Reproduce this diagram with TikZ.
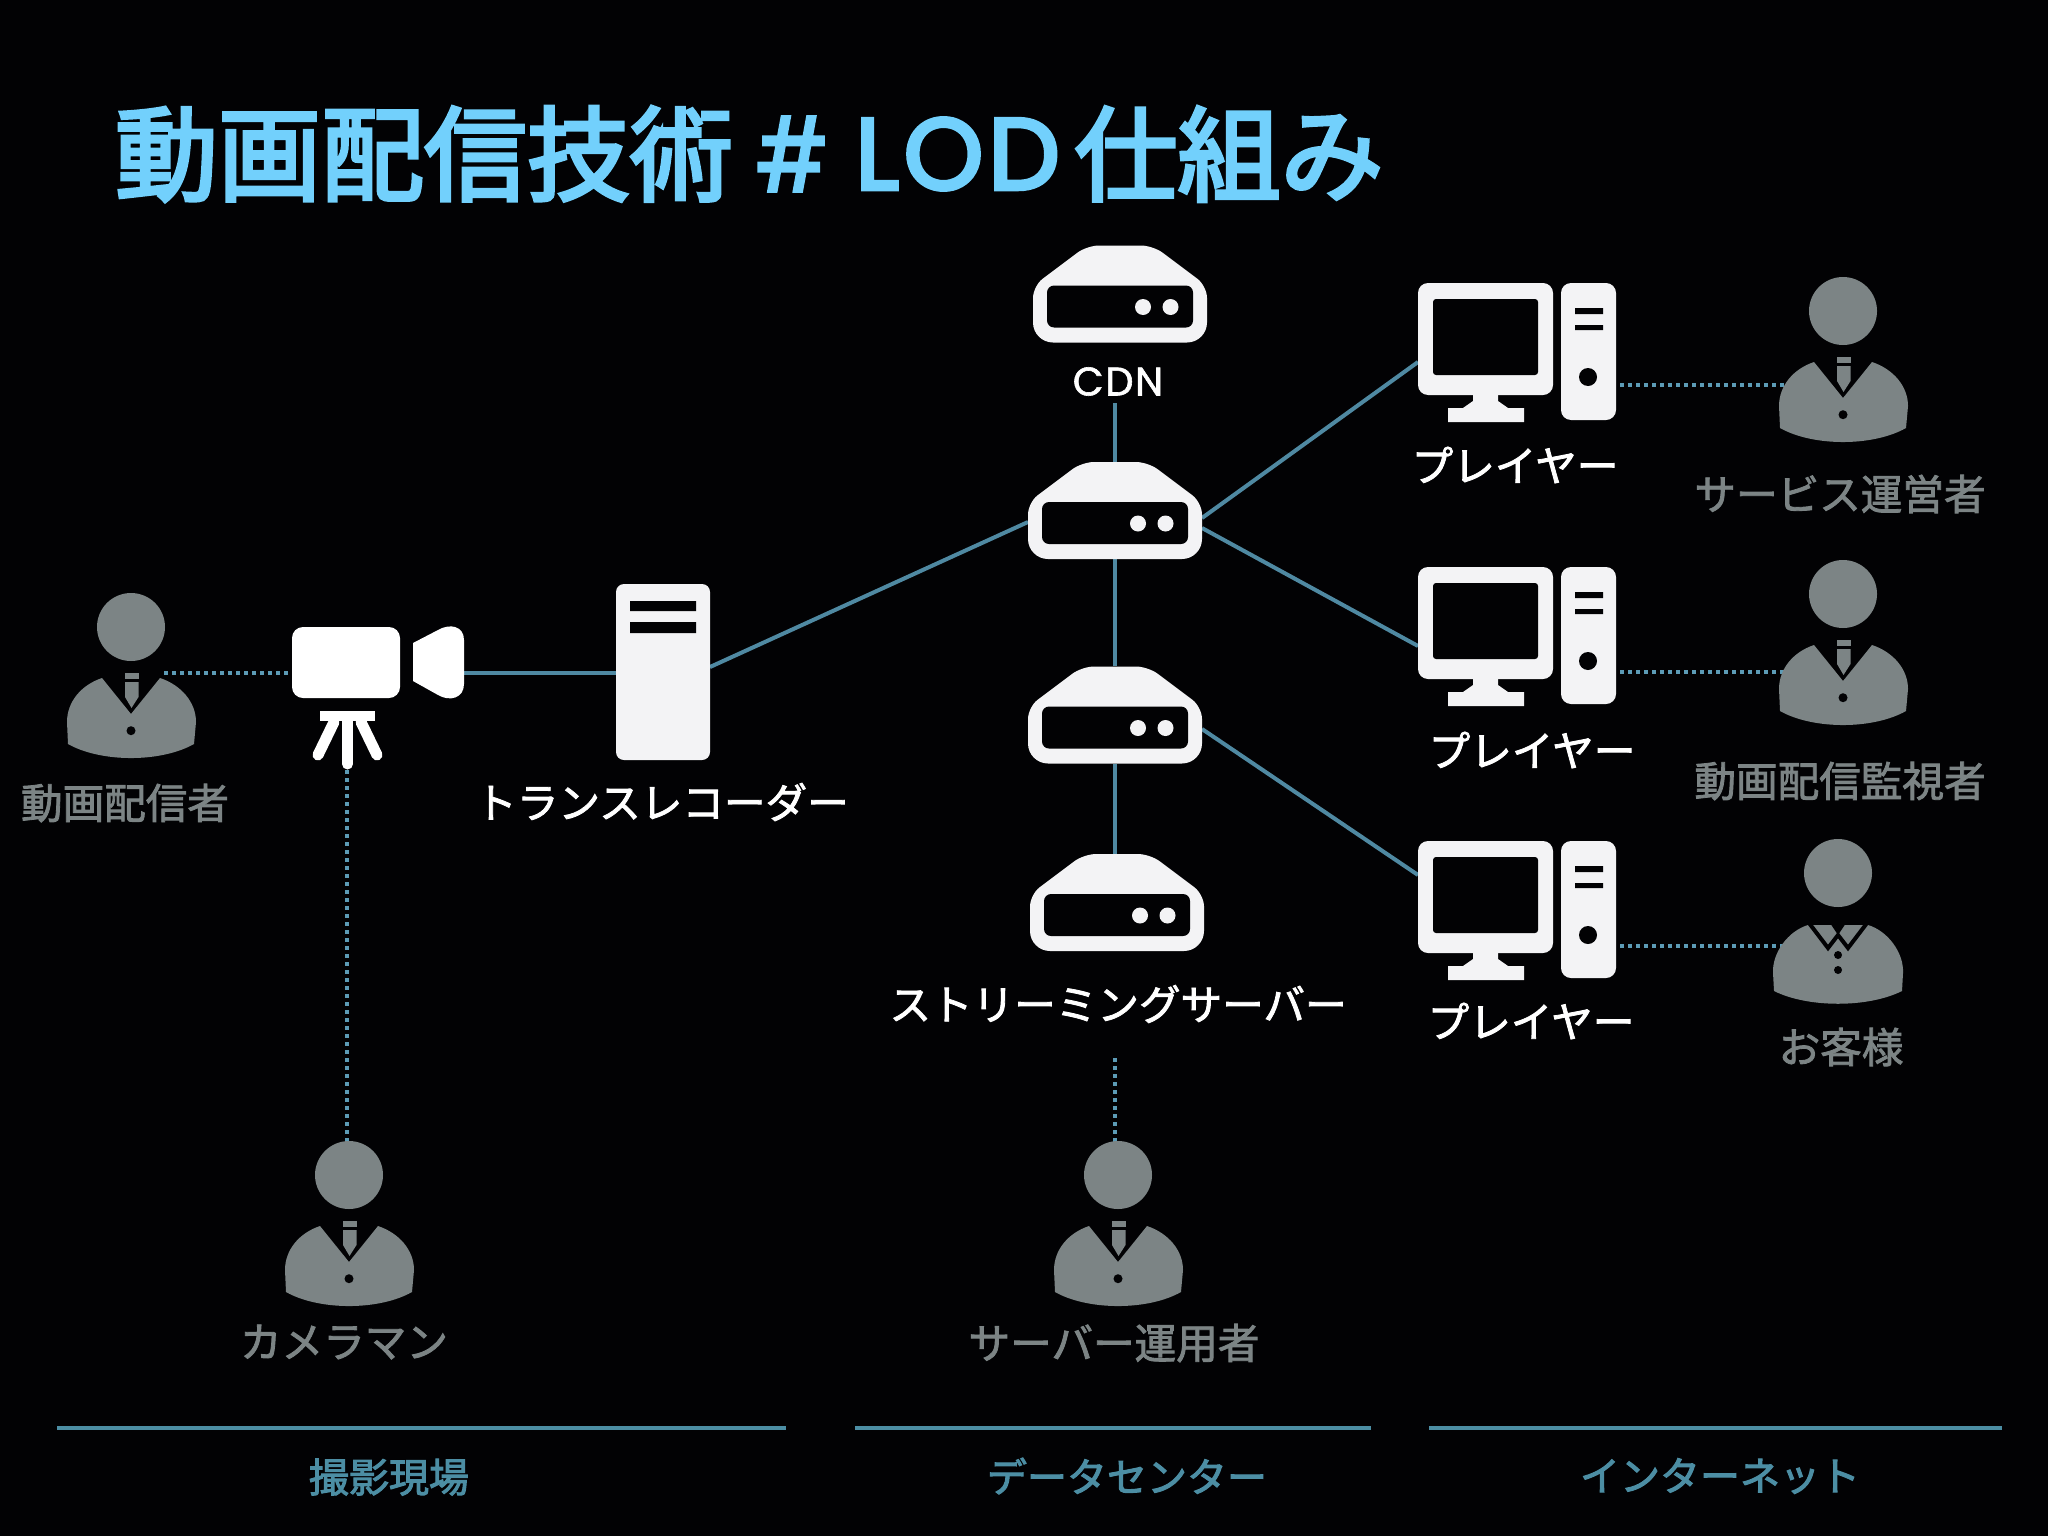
\documentclass[tikz,border=0pt]{standalone}
\usepackage{fontspec}
\setmainfont{Noto Sans CJK JP}
\newfontfamily\jp[FakeBold=2]{Noto Sans CJK JP}
\newfontfamily\jpb[FakeBold=2.5]{Noto Sans CJK JP}
\newfontfamily\jpt[FakeBold=3.5]{Noto Sans CJK JP}
\newfontfamily\lat[FakeBold=1.5,LetterSpace=4]{Poppins}
\newfontfamily\latb[FakeBold=4,LetterSpace=5]{Poppins}
\newfontfamily\lath[FakeBold=3,FakeStretch=0.85]{Poppins}
\definecolor{bgc}{HTML}{020204}
\definecolor{iconw}{HTML}{F3F3F5}
\definecolor{persong}{HTML}{7C8485}
\definecolor{wire}{HTML}{4F89A2}
\definecolor{dotc}{HTML}{5C9BB6}
\definecolor{sect}{HTML}{4C8EA4}
\definecolor{titlec}{HTML}{72D0FC}
\tikzset{
  x=0.5pt,y=-0.5pt,
  iconbox/.style={inner sep=0pt,outer sep=0pt,minimum width=#1},
  wirel/.style={draw=wire,line width=2pt},
  dotl/.style={draw=dotc,line width=2pt,dash pattern=on 2pt off 2pt},
  whitelbl/.style={inner sep=0pt,text=white,font=\jp\fontsize{20.8pt}{24pt}\selectfont},
  latlbl/.style={inner sep=0pt,text=white,font=\lat\fontsize{20pt}{24pt}\selectfont},
  graylbl/.style={inner sep=0pt,text=persong,font=\jp\fontsize{20.8pt}{24pt}\selectfont},
  sectlbl/.style={inner sep=0pt,text=sect,font=\jpb\fontsize{20pt}{24pt}\selectfont},
  titlelbl/.style={inner sep=0pt,text=titlec,font=\jpt\fontsize{51.5pt}{60pt}\selectfont},
  titlelat/.style={inner sep=0pt,text=titlec,font=\latb\fontsize{50.5pt}{60pt}\selectfont},
  titlehash/.style={inner sep=0pt,text=titlec,font=\lath\fontsize{50.5pt}{60pt}\selectfont},
  sectline/.style={draw=sect,line width=1.75pt},
  pics/server/.style={code={
    \fill[iconw] [rounded corners=6pt] (-33,-48.5) -- (33,-48.5) -- (87,-8) [rounded corners=10pt] -- (87,48.5) -- (-87,48.5) [rounded corners=6pt] -- (-87,-8) -- cycle;
    \fill[bgc,rounded corners=3.5pt] (-73,-8.5) rectangle (73,33.5);
    \fill[iconw] (23,13) circle[radius=8] (50.5,13) circle[radius=8];
  }},
  pics/monitor/.style={code={
    \begin{scope}[shift={(-99,-69.5)}]
    \fill[iconw,rounded corners=5pt] (0,0) rectangle (135,112);
    \fill[bgc,rounded corners=1.5pt] (15,16) rectangle (120,92);
    \fill[iconw] (55,110) -- (80,110) -- (80,118) -- (90,125) -- (106,125) -- (106,139) -- (30,139) -- (30,125) -- (45,125) -- (55,118) -- cycle;
    \fill[iconw,rounded corners=5pt] (143,0) rectangle (198,137);
    \fill[bgc] (157,25) rectangle (185,31) (157,42) rectangle (185,47);
    \fill[bgc] (170,94) circle[radius=9];
    \end{scope}
  }},
  pics/towerbox/.style={code={
    \fill[iconw,rounded corners=4pt] (-47,-88) rectangle (47,88);
    \fill[bgc] (-33,-71) rectangle (33,-61) (-33,-50) rectangle (33,-39);
  }},
  pics/camicon/.style={code={
    \fill[white,rounded corners=5.5pt] (-86,-71) rectangle (22,0);
    \fill[white] (35,-55) -- (60,-68) .. controls (72,-75) and (86,-72) .. (86,-58) -- (86,-14) .. controls (86,0) and (72,4) .. (60,-3) -- (35,-17) -- cycle;
    \fill[white] (-58,13) rectangle (-3,23);
    \draw[white,line width=5.5pt,line cap=round] (-30.5,20) -- (-30.5,66);
    \draw[white,line width=5.5pt,line cap=round] (-44,24) -- (-60,57);
    \draw[white,line width=5.5pt,line cap=round] (-17,24) -- (-1,57);
  }},
  pics/suit/.style={code={
    \begin{scope}[shift={(0,-48)}]
    \fill[persong] (0,0) circle[radius=34];
    \fill[persong] (-29,51) .. controls (-50,58) and (-64,75) .. (-64,95) -- (-63,117)
      .. controls (-30,135.7) and (30,135.7) .. (63,117) -- (65,95)
      .. controls (65,75) and (50,58) .. (29,51) -- (0,87) -- cycle;
    \fill[persong] (-6,46) rectangle (7.5,52);
    \fill[persong] (-6,55) -- (7.5,55) -- (7.5,70) -- (0.5,81) -- (-6,70) -- cycle;
    \fill[bgc] (0,103.7) circle[radius=4.5];
    \end{scope}
  }},
  pics/polo/.style={code={
    \begin{scope}[shift={(0,-48)}]
    \fill[persong] (0,0) circle[radius=34];
    \fill[persong] (-30,52) .. controls (-50,58) and (-66,80) .. (-65,100) -- (-64,118)
      .. controls (-30,135) and (30,135) .. (64,118) -- (65,100)
      .. controls (66,80) and (50,58) .. (30,52) -- cycle;
    \fill[bgc] (-8,50) -- (8,50) -- (0,62) -- cycle;
    \draw[bgc,line width=2pt] (-29,50) -- (-10,75) -- (0,62) -- (10,75) -- (29,50);
    \fill[bgc] (0,82) circle[radius=4] (0,97) circle[radius=4];
    \end{scope}
  }},
}
\begin{document}
\begin{tikzpicture}
\useasboundingbox (0,0) rectangle (2048,1536);
\fill[bgc] (0,0) rectangle (2048,1536);

% title
\node[titlelbl] (t1) at (424,154) {動画配信技術};
\node[titlehash] (t2) at (792,154) {\#};
\node[titlelat] (t3) at (957.5,154) {LOD};
\node[titlelbl] (t4) at (1229,154) {仕組み};

% invisible anchors for icons
\node[iconbox=87pt,minimum height=48pt] (srv1) at (1120,294) {};
\node[iconbox=87pt,minimum height=48.5pt] (srv2) at (1115,510.5) {};
\node[iconbox=87pt,minimum height=49pt] (srv3) at (1115,715) {};
\node[iconbox=87pt,minimum height=48.5pt] (srv4) at (1117,902.5) {};
\node[iconbox=99pt,minimum height=69.5pt] (mon1) at (1517,352.5) {};
\node[iconbox=99pt,minimum height=69.5pt] (mon2) at (1517,636.5) {};
\node[iconbox=99pt,minimum height=69.5pt] (mon3) at (1517,910.5) {};
\node[iconbox=47pt,minimum height=88pt] (trans) at (663,672) {};
\node[iconbox=86pt,minimum height=72pt] (cam) at (378,698) {};
\node[iconbox=65pt,minimum height=81pt] (pStream) at (131,675) {};
\node[iconbox=65pt,minimum height=81pt] (pCam) at (349,1223) {};
\node[iconbox=65pt,minimum height=81pt] (pOps) at (1118,1223) {};
\node[iconbox=65pt,minimum height=81pt] (pSvc) at (1843,359) {};
\node[iconbox=65pt,minimum height=81pt] (pMon) at (1843,642) {};
\node[iconbox=65pt,minimum height=81pt] (pCust) at (1838,921) {};

% labels
\node[latlbl] (lCdn) at (1118,381.5) {CDN};
\node[whitelbl] (lTrans) at (662,802) {トランスレコーダー};
\node[whitelbl] (lStream) at (1118,1004) {ストリーミングサーバー};
\node[whitelbl] (lP1) at (1515,465) {プレイヤー};
\node[whitelbl] (lP2) at (1532,750) {プレイヤー};
\node[whitelbl] (lP3) at (1531,1021) {プレイヤー};
\node[graylbl] (lA) at (125,803) {動画配信者};
\node[graylbl] (lB) at (344,1342) {カメラマン};
\node[graylbl] (lC) at (1114,1343) {サーバー運用者};
\node[graylbl] (lD) at (1840,494) {サービス運営者};
\node[graylbl] (lE) at (1840,781) {動画配信監視者};
\node[graylbl] (lF) at (1841,1047) {お客様};

\coordinate (cdnfoot) at (1115,403);
\coordinate (opstop) at (1115,1058);

% connectors
\draw[wirel] (cdnfoot) -- (srv2.north);
\draw[wirel] (srv2.south) -- (srv3.north);
\draw[wirel] (srv3.south) -- (srv3.south |- srv4.north);
\draw[wirel] ([yshift=-3.75pt]srv2.east) -- ([yshift=-4.75pt]mon1.west);
\draw[wirel] ([yshift=-8.75pt]srv2.east) -- ([yshift=-4.75pt]mon2.west);
\draw[wirel] ([yshift=-7pt]srv3.east) -- ([yshift=17.75pt]mon3.west);
\draw[wirel] ([yshift=2.5pt]trans.east) -- ([yshift=-5.75pt]srv2.west);
\draw[wirel] ([yshift=12.5pt]cam.east) -- ([yshift=-0.5pt]trans.west);
\draw[dotl] ([xshift=-2pt,yshift=12.5pt]cam.west) -- ([xshift=-16pt,yshift=1pt]pStream.east);
\draw[dotl] ([xshift=-15.5pt]cam.south) -- ([xshift=-15.5pt]cam.south |- pCam.north);
\draw[dotl] (opstop) -- (opstop |- pOps.north);
\draw[dotl] ([xshift=2pt,yshift=-16.25pt]mon1.east) -- ([xshift=5pt,yshift=-16.25pt]mon1.east -| pSvc.west);
\draw[dotl] ([xshift=2pt,yshift=-17.75pt]mon2.east) -- ([xshift=5pt,yshift=-17.75pt]mon2.east -| pMon.west);
\draw[dotl] ([xshift=2pt,yshift=-17.75pt]mon3.east) -- ([xshift=5pt,yshift=-17.75pt]mon3.east -| pCust.west);

% icons
\pic at (srv1) {server};
\pic at (srv2) {server};
\pic at (srv3) {server};
\pic at (srv4) {server};
\pic at (mon1) {monitor};
\pic at (mon2) {monitor};
\pic at (mon3) {monitor};
\pic at (trans) {towerbox};
\pic at (cam) {camicon};
\pic at (pStream) {suit};
\pic at (pCam) {suit};
\pic at (pOps) {suit};
\pic at (pSvc) {suit};
\pic at (pMon) {suit};
\pic at (pCust) {polo};

% sections
\coordinate (s1a) at (57,1428); \coordinate (s1b) at (786,1428);
\coordinate (s2a) at (855,1428); \coordinate (s2b) at (1371,1428);
\coordinate (s3a) at (1429,1428); \coordinate (s3b) at (2002,1428);
\draw[sectline] (s1a) -- (s1b);
\draw[sectline] (s2a) -- (s2b);
\draw[sectline] (s3a) -- (s3b);
\node[sectlbl] (sA) at (389,1477) {撮影現場};
\node[sectlbl] (sB) at (1127,1476) {データセンター};
\node[sectlbl] (sC) at (1720,1476) {インターネット};
\end{tikzpicture}
\end{document}
